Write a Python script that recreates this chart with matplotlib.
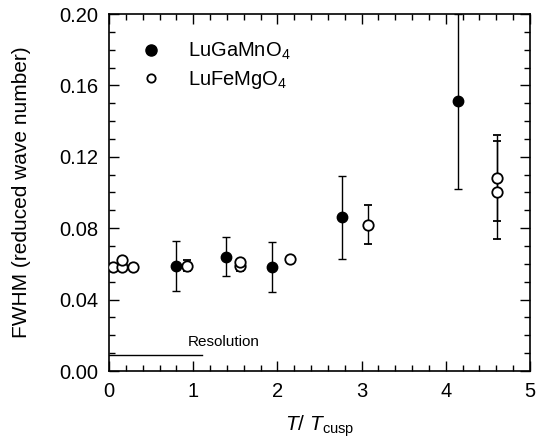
import matplotlib
matplotlib.use("Agg")
import matplotlib.pyplot as plt
from matplotlib.ticker import MultipleLocator, FormatStrFormatter
from matplotlib.lines import Line2D

plt.rcParams['font.family'] = ['Liberation Sans', 'DejaVu Sans']
plt.rcParams['mathtext.fontset'] = 'custom'
plt.rcParams['mathtext.it'] = 'Liberation Sans:italic'
plt.rcParams['mathtext.rm'] = 'Liberation Sans'

# LuGaMnO4 (filled)
ga_x = [0.80, 1.39, 1.94, 2.77, 4.14]
ga_y = [0.059, 0.064, 0.058, 0.086, 0.151]
ga_err_lo = [0.014, 0.011, 0.014, 0.023, 0.049]
ga_err_hi = [0.014, 0.011, 0.014, 0.023, 0.049]

# LuFeMgO4 (open)
fe_x = [0.05, 0.15, 0.15, 0.28, 0.93, 1.55, 1.55, 2.15, 3.08, 4.61, 4.61]
fe_y = [0.058, 0.058, 0.062, 0.058, 0.059, 0.059, 0.061, 0.063, 0.082, 0.108, 0.100]
fe_err_lo = [0.0, 0.0, 0.0, 0.0, 0.003, 0.003, 0.0, 0.0, 0.011, 0.034, 0.016]
fe_err_hi = [0.0, 0.0, 0.0, 0.0, 0.003, 0.003, 0.0, 0.0, 0.011, 0.024, 0.029]

# Resolution line
res_x = [0.0, 1.1]
res_y = [0.009, 0.009]

fig = plt.figure(figsize=(5.37, 4.40), dpi=100)
ax = fig.add_axes([109/537, (440-371)/440, (530-109)/537, (371-14)/440])

ax.errorbar(ga_x, ga_y, yerr=[ga_err_lo, ga_err_hi], fmt='o', color='black',
            mfc='black', mec='black', ms=7.5, elinewidth=1.0, capsize=3, capthick=1.0,
            zorder=3)
ax.errorbar(fe_x, fe_y, yerr=[fe_err_lo, fe_err_hi], fmt='o', color='black',
            mfc='white', mec='black', mew=1.3, ms=7.5, elinewidth=1.0, capsize=3, capthick=1.0,
            zorder=3)

ax.plot(res_x, res_y, color='black', lw=1.0)
ax.text(0.93, 0.0125, 'Resolution', fontsize=11, ha='left', va='bottom')

ax.set_xlim(0, 5)
ax.set_ylim(0, 0.2)
ax.xaxis.set_major_locator(MultipleLocator(1))
ax.xaxis.set_minor_locator(MultipleLocator(0.2))
ax.yaxis.set_major_locator(MultipleLocator(0.04))
ax.yaxis.set_minor_locator(MultipleLocator(0.01))
ax.yaxis.set_major_formatter(FormatStrFormatter('%.2f'))
ax.tick_params(which='both', direction='in', top=True, right=True, labelsize=14.5, pad=8)
ax.tick_params(which='major', length=7, width=1)
ax.tick_params(which='minor', length=4, width=1)
for s in ax.spines.values():
    s.set_linewidth(1.2)

ax.set_xlabel('$T$/ $T_{\\mathrm{cusp}}$', fontsize=15, labelpad=9)
ax.set_ylabel('FWHM (reduced wave number)', fontsize=15, labelpad=20)

h1 = Line2D([], [], marker='o', ls='none', color='black', mfc='black', ms=8)
h2 = Line2D([], [], marker='o', ls='none', color='black', mfc='white', mew=1.3, ms=6)
ax.legend([h1, h2], ['LuGaMnO$_4$', 'LuFeMgO$_4$'], loc='upper left',
          bbox_to_anchor=(0.01, 0.975), frameon=False, fontsize=14.5,
          handletextpad=0.8, labelspacing=0.35)

fig.savefig('out.png', dpi=100)
